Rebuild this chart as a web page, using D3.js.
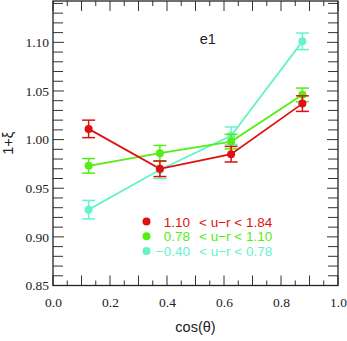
<!DOCTYPE html>
<html>
<head>
<meta charset="utf-8">
<script src="https://cdn.jsdelivr.net/npm/d3@7"></script>
<style>
  body { margin: 0; background: #fff; }
  .title { font-family: "Liberation Sans", Arial, sans-serif; fill: #222; }
  .legend text { font-family: "Liberation Sans", Arial, sans-serif; font-size: 13.5px; }
</style>
</head>
<body>
<div class="chart"></div>
<script>
// bin centres in cos(theta)
var cosTheta = [0.125, 0.375, 0.625, 0.875];

// 1+xi per colour bin, with errors
var redVals   = [1.011, 0.970, 0.985, 1.037];
var redErr    = [0.009, 0.008, 0.008, 0.008];
var greenVals = [0.973, 0.986, 0.998, 1.046];
var greenErr  = [0.0075, 0.008, 0.0075, 0.007];
var cyanVals  = [0.928, 0.969, 1.004, 1.101];
var cyanErr   = [0.0095, 0.009, 0.009, 0.0085];

var seriesNames = ["1.10", "0.78", "\u22120.40"];
var seriesUpper = ["1.84", "1.10", "0.78"];
var seriesColors = ["#dd1111", "#55ee11", "#66f2cc"];

var xLabelTicks = [0, 0.2, 0.4, 0.6, 0.8, 1.0];
var yLabelTicks = [0.85, 0.90, 0.95, 1.00, 1.05, 1.10];

var W = 347, H = 341;
var margin = {top: 1, right: 9, bottom: 55.5, left: 53};
var width = W - margin.left - margin.right,
    height = H - margin.top - margin.bottom;

var svg = d3.select(".chart").append("svg")
    .attr("width", W)
    .attr("height", H)
    .append("g")
    .attr("transform", "translate(" + margin.left + "," + margin.top + ")");

var x = d3.scaleLinear().domain([0, 1]).range([0, width]);
var y = d3.scaleLinear().domain([0.85, 1.1425]).range([height, 0]);

// minor tick positions
var xTicks = d3.range(0, 21).map(function (i) { return i * 0.05; });
var yTicks = d3.range(0, 30).map(function (i) { return +(0.85 + i * 0.01).toFixed(2); });

function xLen(v) { return Math.abs(Math.round(v * 20)) % 2 === 0 ? 10 : 5; }
function yLen(v) { return Math.abs(Math.round(v * 100)) % 5 === 0 ? 11 : 10; }

// ticks on all four sides, pointing inwards
svg.selectAll(".xt-b").data(xTicks).enter().append("line")
    .attr("x1", function (d) { return x(d); }).attr("x2", function (d) { return x(d); })
    .attr("y1", height).attr("y2", function (d) { return height - xLen(d); })
    .attr("stroke", "#333").attr("stroke-width", 1);
svg.selectAll(".xt-t").data(xTicks).enter().append("line")
    .attr("x1", function (d) { return x(d); }).attr("x2", function (d) { return x(d); })
    .attr("y1", 0).attr("y2", function (d) { return xLen(d); })
    .attr("stroke", "#333").attr("stroke-width", 1);
svg.selectAll(".yt-l").data(yTicks).enter().append("line")
    .attr("y1", function (d) { return y(d); }).attr("y2", function (d) { return y(d); })
    .attr("x1", 0).attr("x2", function (d) { return yLen(d); })
    .attr("stroke", "#333").attr("stroke-width", 1);
svg.selectAll(".yt-r").data(yTicks).enter().append("line")
    .attr("y1", function (d) { return y(d); }).attr("y2", function (d) { return y(d); })
    .attr("x1", width).attr("x2", function (d) { return width - yLen(d); })
    .attr("stroke", "#333").attr("stroke-width", 1);

// labels through d3 axes (no tick lines)
var xAxis = d3.axisBottom(x).tickValues(xLabelTicks).tickSize(0).tickPadding(12)
    .tickFormat(d3.format(".1f"));
var yAxis = d3.axisLeft(y).tickValues(yLabelTicks).tickSize(0).tickPadding(4)
    .tickFormat(d3.format(".2f"));

function serifLabels(g) {
    g.select(".domain").remove();
    g.attr("font-family", "'Liberation Serif', 'DejaVu Serif', serif")
     .attr("font-size", 13.5);
    g.selectAll("text").attr("fill", "#222");
}

svg.append("g")
    .attr("transform", "translate(0," + height + ")")
    .call(xAxis)
    .call(serifLabels);
svg.append("g")
    .call(yAxis)
    .call(serifLabels);

// frame
svg.append("rect")
    .attr("x", 0).attr("y", 0).attr("width", width).attr("height", height)
    .attr("fill", "none").attr("stroke", "#222").attr("stroke-width", 1.3);

// axis titles
svg.append("text").attr("class", "title")
    .attr("x", width / 2).attr("y", height + 46)
    .attr("text-anchor", "middle").style("font-size", "14.5px")
    .text("cos(\u03b8)");
svg.append("text").attr("class", "title")
    .attr("transform", "translate(" + (13 - margin.left) + "," + (height / 2) + ") rotate(-90)")
    .attr("text-anchor", "middle").style("font-size", "14.5px")
    .text("1+\u03be");

svg.append("text").attr("class", "title")
    .attr("x", x(0.515)).attr("y", 43)
    .style("font-size", "14.5px")
    .text("e1");

// series, drawn cyan first so red ends on top
var series = [
    {vals: cyanVals, err: cyanErr, color: seriesColors[2]},
    {vals: greenVals, err: greenErr, color: seriesColors[1]},
    {vals: redVals, err: redErr, color: seriesColors[0]}
];

var line = d3.line()
    .x(function (d) { return x(d.x); })
    .y(function (d) { return y(d.y); });

series.forEach(function (s) {
    var pts = cosTheta.map(function (c, i) { return {x: c, y: s.vals[i], e: s.err[i]}; });
    var g = svg.append("g");

    g.append("path").datum(pts)
        .attr("d", line)
        .attr("fill", "none")
        .attr("stroke", s.color)
        .attr("stroke-width", 1.8);

    var eb = g.selectAll(".eb").data(pts).enter().append("g");
    eb.append("line")
        .attr("x1", function (d) { return x(d.x); }).attr("x2", function (d) { return x(d.x); })
        .attr("y1", function (d) { return y(d.y - d.e); }).attr("y2", function (d) { return y(d.y + d.e); })
        .attr("stroke", s.color).attr("stroke-width", 1.5);
    [-1, 1].forEach(function (sign) {
        eb.append("line")
            .attr("x1", function (d) { return x(d.x) - 6.5; }).attr("x2", function (d) { return x(d.x) + 6.5; })
            .attr("y1", function (d) { return y(d.y + sign * d.e); }).attr("y2", function (d) { return y(d.y + sign * d.e); })
            .attr("stroke", s.color).attr("stroke-width", 1.5);
    });

    g.selectAll(".dot").data(pts).enter().append("circle")
        .attr("cx", function (d) { return x(d.x); })
        .attr("cy", function (d) { return y(d.y); })
        .attr("r", 4)
        .attr("fill", s.color);
});

// legend
var legend = svg.append("g").attr("class", "legend");
seriesNames.forEach(function (name, i) {
    var ly = 220.5 + i * 14.8;
    legend.append("circle")
        .attr("cx", 146.5 - margin.left).attr("cy", ly)
        .attr("r", 4).attr("fill", seriesColors[i]);
    legend.append("text")
        .attr("x", 190 - margin.left).attr("y", ly + 5)
        .attr("text-anchor", "end")
        .attr("fill", seriesColors[i])
        .text(name);
    legend.append("text")
        .attr("x", 199 - margin.left).attr("y", ly + 5)
        .attr("fill", seriesColors[i])
        .text("< u\u2212r < " + seriesUpper[i]);
});
</script>
</body>
</html>
